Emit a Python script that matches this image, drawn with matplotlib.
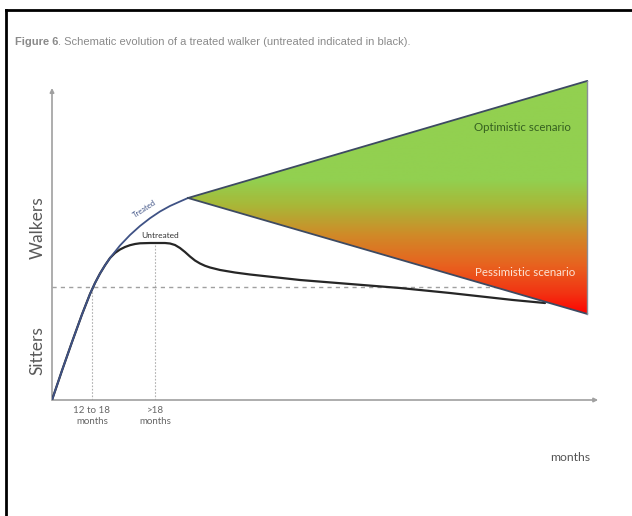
import numpy as np
import matplotlib
matplotlib.use("Agg")
import matplotlib.pyplot as plt
from matplotlib.patches import Polygon
from matplotlib.colors import LinearSegmentedColormap
from matplotlib import font_manager

# ---------------- data (schematic units: x = time, y = motor ability) ----------------
treated_x = [0, 1.82, 3.64, 5.45, 6.91, 7.82, 8.73, 9.64, 10.55, 12.36, 14.18, 16.0, 17.82,
             19.64, 21.45, 23.27, 24.73]
treated_y = [0, 9.22, 18.13, 26.72, 33.13, 36.56, 39.53, 42.09, 44.38, 48.28, 51.56, 54.38,
             56.81, 58.91, 60.63, 62.03, 63.13]

untreated_x = [0, 1.82, 3.64, 5.45, 6.91, 7.82, 8.73, 9.64, 10.55, 11.45, 12.36, 13.27, 14.18,
               15.09, 16.0, 17.82, 20.55, 21.45, 22.36, 23.27, 24.18, 25.09, 26.0, 26.91,
               27.82, 28.73, 30.55, 33.27, 36.0, 45.09, 54.18, 63.27, 72.36, 83.82, 89.64]
untreated_y = [0, 9.22, 18.13, 26.72, 33.13, 36.56, 39.53, 42.09, 44.38, 45.94, 47.03, 47.81,
               48.38, 48.75, 48.97, 49.06, 49.06, 48.91, 48.44, 47.5, 46.25, 44.84, 43.59,
               42.66, 41.94, 41.41, 40.63, 39.84, 39.22, 37.5, 36.25, 35.0, 33.44, 31.25, 30.31]

scenario_x = [24.73, 97.3, 97.3]         # vertex, optimistic end, pessimistic end
scenario_y = [63.13, 99.7, 26.9]

walk_threshold = 35.31                   # dashed horizontal line (sitters / walkers)
milestone_x = [7.27, 18.8]               # "12 to 18 months", ">18 months"
milestone_top = [35.31, 49.06]
milestone_labels = ["12 to 18\nmonths", ">18\nmonths"]

# gradient stops (y value, colour)
grad_y = [26.25, 33.0, 42.0, 51.5, 61.0, 68.75, 100.0]
grad_c = ["#ff0000", "#f23212", "#e8621f", "#d08a28", "#a8b838", "#92d050", "#92d050"]

# ---------------- figure ----------------
W, H = 632, 516
fig = plt.figure(figsize=(W / 100, H / 100), dpi=100)
fig.patch.set_facecolor("white")

avail = {f.name for f in font_manager.fontManager.ttflist}
title_font = "Liberation Sans Narrow" if "Liberation Sans Narrow" in avail else "Liberation Sans"
chart_font = "Lato" if "Lato" in avail else "DejaVu Sans"

# border (left and top visible)
fig.add_artist(plt.Line2D([6 / W, 6 / W], [0, 1 - 10 / H], color="black", lw=2))
fig.add_artist(plt.Line2D([6 / W, 1], [1 - 10 / H, 1 - 10 / H], color="black", lw=2))

# axes mapping: px 52 -> x=0, px 602 -> x=100 ; py 400 -> y=0, py 80 -> y=100
ax = fig.add_axes([52 / W, (H - 400) / H, 550 / W, 320 / H])
ax.set_xlim(0, 100)
ax.set_ylim(0, 100)
ax.axis("off")

# title
t1 = fig.text(15 / W, 1 - 45 / H, "Figure 6", fontsize=8.0, fontweight="bold",
              color="#8a8a8a", family=title_font, va="baseline", ha="left")
ax.annotate(". Schematic evolution of a treated walker (untreated indicated in black).",
            xy=(1, 0), xycoords=t1, xytext=(0, 0), textcoords="offset points",
            fontsize=8.0, color="#8a8a8a", family=title_font, va="bottom", ha="left",
            annotation_clip=False)

axis_col = "#a0a0a0"
ax.annotate("", xy=(0, 97.5), xytext=(0, 0),
            arrowprops=dict(arrowstyle="-|>", color=axis_col, lw=1.2, mutation_scale=6,
                            shrinkA=0, shrinkB=0),
            annotation_clip=False)
ax.annotate("", xy=(99.3, 0), xytext=(0, 0),
            arrowprops=dict(arrowstyle="-|>", color=axis_col, lw=1.2, mutation_scale=6,
                            shrinkA=0, shrinkB=0),
            annotation_clip=False)

# dashed threshold line
ax.plot([0, 97.0], [walk_threshold, walk_threshold], color="#a0a0a0", lw=1.0,
        ls=(0, (3, 3)), zorder=2)
# vertical dotted milestone lines
for mx, mt, lab in zip(milestone_x, milestone_top, milestone_labels):
    ax.plot([mx, mx], [0, mt], color="#b0b0b0", lw=0.8, ls=(0, (1.5, 1.5)), zorder=2)
    ax.text(mx, -5.0, lab, ha="center", va="center", fontsize=7, color="#666666",
            family=chart_font, linespacing=1.4, clip_on=False)

# gradient triangle
pos = [(v - grad_y[0]) / (grad_y[-1] - grad_y[0]) for v in grad_y]
cmap = LinearSegmentedColormap.from_list("scen", list(zip(pos, grad_c)))
yy = np.linspace(grad_y[0], grad_y[-1], 400).reshape(-1, 1)
im = ax.imshow(yy, cmap=cmap, aspect="auto", origin="lower",
               extent=[min(scenario_x), max(scenario_x), grad_y[0], grad_y[-1]], zorder=4)
tri = Polygon(list(zip(scenario_x, scenario_y)), closed=True, facecolor="none",
              edgecolor="none")
ax.add_patch(tri)
im.set_clip_path(tri)
ax.set_xlim(0, 100)
ax.set_ylim(0, 100)
ax.plot([scenario_x[0], scenario_x[1]], [scenario_y[0], scenario_y[1]], color="#3d4a62", lw=1.3, zorder=5)
ax.plot([scenario_x[0], scenario_x[2]], [scenario_y[0], scenario_y[2]], color="#3d4a62", lw=1.3, zorder=5)
ax.plot([scenario_x[1], scenario_x[2]], [scenario_y[1], scenario_y[2]], color="#8a8f99", lw=1.0, zorder=5)

# curves
ax.plot(untreated_x, untreated_y, color="#262626", lw=1.6, zorder=3,
        solid_capstyle="round", solid_joinstyle="round")
ax.plot(treated_x, treated_y, color="#3f5285", lw=1.3, zorder=3.5,
        solid_capstyle="round", solid_joinstyle="round")

# in-chart labels
ax.text(16.9, 59.8, "Treated", rotation=33, fontsize=5.5, color="#3f5285",
        ha="center", va="center", family=chart_font)
ax.text(19.6, 51.4, "Untreated", fontsize=6.0, color="#333333",
        ha="center", va="center", family=chart_font)
ax.text(85.6, 85.3, "Optimistic scenario", fontsize=8.3, color="#356020",
        ha="center", va="center", family=chart_font, zorder=6)
ax.text(86.0, 39.7, "Pessimistic scenario", fontsize=8.3, color="#fde3d6",
        ha="center", va="center", family=chart_font, zorder=6)

ax.text(-2.6, 53.75, "Walkers", rotation=90, fontsize=12.5, color="#5a5a5a",
        ha="center", va="center", family=chart_font, clip_on=False)
ax.text(-2.6, 15.6, "Sitters", rotation=90, fontsize=12.5, color="#5a5a5a",
        ha="center", va="center", family=chart_font, clip_on=False)
ax.text(94.2, -18.1, "months", fontsize=8.8, color="#555555",
        ha="center", va="center", family=chart_font, clip_on=False)

fig.savefig("out.png", dpi=100)
